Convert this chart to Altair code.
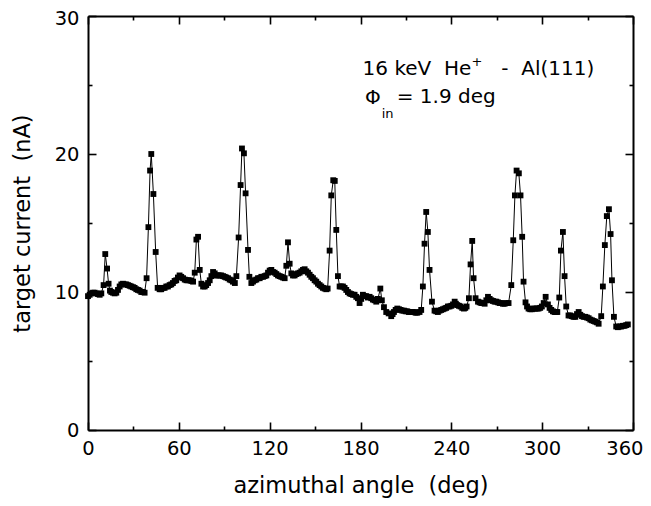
import altair as alt
import pandas as pd

# ---- data ----
angle = [
    0.0, 1.1, 2.2, 3.3, 4.4, 5.5, 6.6, 7.7, 8.8, 10.3,
    11.4, 12.6, 13.6, 14.5, 15.4, 16.5, 17.6, 18.7, 19.8, 20.9,
    22.0, 23.1, 24.2, 25.3, 26.4, 27.5, 28.6, 29.7, 30.8, 31.9,
    33.0, 34.1, 35.2, 36.3, 37.4, 38.7, 39.9, 41.0, 41.8, 43.2,
    44.7, 46.0, 47.3, 48.4, 49.5, 50.6, 51.7, 52.8, 53.9, 55.0,
    56.1, 57.2, 58.3, 59.4, 60.5, 61.6, 62.8, 63.9, 65.0, 66.1,
    67.2, 68.3, 69.4, 70.5, 71.6, 72.7, 73.8, 74.9, 76.0, 77.1,
    78.1, 79.3, 80.4, 81.5, 82.6, 83.7, 84.8, 85.9, 86.9, 88.0,
    89.2, 90.3, 91.3, 92.5, 93.6, 94.7, 95.7, 97.0, 98.0, 99.5,
    100.8, 101.7, 103.0, 104.1, 105.7, 106.6, 107.9, 109.0, 110.1, 111.2,
    112.3, 113.4, 114.5, 115.6, 116.7, 117.8, 118.9, 120.0, 121.1, 122.2,
    123.3, 124.4, 125.5, 126.6, 127.7, 128.8, 129.9, 131.0, 132.1, 133.2,
    134.3, 135.4, 136.5, 137.6, 138.7, 139.8, 140.9, 142.0, 143.1, 144.2,
    145.3, 146.4, 147.5, 148.6, 149.7, 150.8, 151.9, 153.0, 154.1, 155.2,
    156.3, 157.4, 158.3, 159.6, 160.7, 162.0, 163.0, 164.0, 165.1, 166.2,
    167.3, 168.4, 169.5, 170.6, 171.7, 172.8, 173.9, 175.0, 176.1, 177.2,
    178.3, 179.4, 180.5, 181.6, 182.7, 183.8, 184.9, 186.0, 187.1, 188.2,
    189.3, 190.4, 191.5, 193.1, 194.1, 195.5, 197.0, 198.6, 200.3, 201.2,
    202.1, 203.2, 204.3, 205.4, 206.5, 207.6, 208.7, 209.8, 210.9, 212.0,
    213.1, 214.2, 215.3, 216.4, 217.5, 219.0, 220.1, 221.2, 222.3, 223.4,
    224.5, 225.6, 227.2, 228.9, 230.0, 231.1, 232.2, 233.3, 234.4, 235.5,
    236.6, 237.7, 238.8, 240.0, 241.1, 242.2, 243.0, 243.9, 245.0, 246.1,
    247.2, 248.3, 249.2, 250.1, 251.6, 252.7, 253.8, 254.7, 256.0, 257.6,
    258.7, 259.8, 260.9, 262.0, 263.1, 264.2, 265.3, 266.4, 267.5, 268.6,
    269.7, 270.8, 271.9, 273.0, 274.1, 275.2, 276.5, 277.8, 279.6, 280.9,
    282.0, 283.1, 284.6, 285.7, 286.8, 287.7, 289.0, 290.0, 291.0, 292.1,
    293.2, 294.3, 295.4, 296.5, 297.6, 298.7, 299.8, 301.0, 302.3, 303.8,
    304.9, 306.0, 307.1, 308.2, 309.1, 310.0, 311.3, 312.4, 313.7, 314.8,
    315.9, 317.4, 318.5, 319.6, 320.7, 321.9, 323.0, 324.1, 325.2, 326.3,
    327.4, 328.5, 329.6, 330.7, 331.8, 332.9, 334.0, 335.1, 336.2, 337.3,
    339.0, 340.1, 341.4, 342.7, 344.1, 345.2, 346.1, 347.4, 348.9, 350.0,
    351.1, 352.2, 353.3, 354.4, 355.5, 356.6,
]
current = [
    9.7, 9.8, 9.9, 9.95, 9.95, 9.9, 9.85, 9.8, 9.9, 10.5,
    12.75, 11.7, 10.6, 10.1, 10.0, 9.95, 9.9, 9.95, 10.15, 10.4,
    10.55, 10.6, 10.55, 10.55, 10.5, 10.45, 10.4, 10.35, 10.3, 10.2,
    10.15, 10.1, 10.0, 10.0, 9.95, 11.0, 14.7, 18.8, 20.0, 17.1,
    12.9, 10.3, 10.2, 10.2, 10.3, 10.3, 10.4, 10.4, 10.5, 10.55,
    10.65, 10.8, 10.85, 11.05, 11.2, 11.1, 11.0, 10.9, 10.85, 10.85,
    10.85, 10.8, 10.75, 11.4, 13.8, 14.0, 11.6, 10.6, 10.4, 10.4,
    10.5, 10.65, 10.85, 11.15, 11.45, 11.35, 11.2, 11.2, 11.2, 11.2,
    11.15, 11.1, 11.05, 11.0, 10.9, 10.85, 10.75, 10.65, 11.15, 13.95,
    17.75, 20.4, 20.05, 17.15, 13.05, 11.1, 10.65, 10.75, 10.85, 10.9,
    11.0, 11.0, 11.1, 11.1, 11.15, 11.2, 11.4, 11.55, 11.6, 11.45,
    11.4, 11.3, 11.2, 11.15, 11.1, 11.05, 11.0, 11.9, 13.6, 12.05,
    11.35, 11.2, 11.2, 11.3, 11.35, 11.4, 11.5, 11.6, 11.65, 11.5,
    11.4, 11.25, 11.1, 11.0, 10.85, 10.75, 10.6, 10.5, 10.4, 10.3,
    10.25, 10.2, 10.25, 13.0, 17.0, 18.1, 18.05, 14.5, 11.15, 10.4,
    10.4, 10.4, 10.3, 10.15, 10.0, 9.9, 9.85, 9.8, 9.8, 9.65,
    9.55, 9.2, 9.5, 9.8, 9.7, 9.7, 9.6, 9.65, 9.55, 9.45,
    9.4, 9.3, 9.5, 10.25, 9.4, 8.9, 8.55, 8.45, 8.25, 8.4,
    8.55, 8.7, 8.8, 8.75, 8.7, 8.65, 8.65, 8.6, 8.6, 8.55,
    8.55, 8.55, 8.55, 8.5, 8.5, 8.55, 8.7, 10.4, 13.5, 15.8,
    14.35, 11.6, 9.3, 8.65, 8.6, 8.55, 8.65, 8.7, 8.75, 8.8,
    8.85, 8.95, 8.95, 9.0, 9.1, 9.3, 9.15, 9.05, 9.0, 8.95,
    8.85, 8.8, 8.85, 8.95, 9.55, 12.0, 13.7, 11.0, 9.55, 9.3,
    9.25, 9.2, 9.2, 9.15, 9.4, 9.65, 9.5, 9.4, 9.35, 9.3,
    9.3, 9.25, 9.2, 9.2, 9.15, 9.15, 9.2, 9.2, 10.5, 13.75,
    17.0, 18.8, 18.6, 17.0, 14.0, 10.75, 9.25, 8.95, 8.8, 8.75,
    8.75, 8.8, 8.8, 8.8, 8.8, 8.85, 8.95, 9.2, 9.65, 9.1,
    8.85, 8.7, 8.6, 8.55, 8.55, 8.55, 9.6, 13.0, 14.35, 11.15,
    8.95, 8.3, 8.3, 8.25, 8.2, 8.2, 8.4, 8.55, 8.35, 8.25,
    8.2, 8.2, 8.15, 8.1, 8.0, 7.95, 7.9, 7.85, 7.8, 7.7,
    8.25, 10.4, 13.4, 15.5, 16.0, 14.2, 10.85, 8.2, 7.5, 7.45,
    7.5, 7.5, 7.55, 7.55, 7.6, 7.65,
]
assert len(angle) == len(current)

x_major = [0, 60, 120, 180, 240, 300, 360]
x_labels_mid = [0, 60, 120, 180, 240, 300]
x_label_last = [360]
x_minor = [30, 90, 150, 210, 270, 330]
y_major = [0, 10, 20, 30]
y_labels_low = [0, 10, 20]
y_label_top = [30]
y_minor = [5, 15, 25]

NB = "\u00a0"
x_title = "azimuthal angle" + NB + " (deg)"
y_title = "target current" + NB + " (nA)"

# annotation pieces (text, angle, current, kind)
ann_text = ["16 keV" + NB + " He", "+", "-" + NB + " Al(111)", "\u03a6", "in", "= 1.9 deg"]
ann_x = [181.4, 253.3, 273.0, 183.0, 194.0, 203.9]
ann_y = [25.72, 26.4, 25.72, 23.62, 22.6, 23.67]
ann_kind = ["big", "small", "big", "big", "small", "big"]

df = pd.DataFrame({"angle": angle, "current": current})
ann = pd.DataFrame({"t": ann_text, "ax": ann_x, "ay": ann_y, "kind": ann_kind})

W, H = 545, 414
FONT = "DejaVu Sans"
LABEL_SIZE = 19.5
xs = alt.Scale(domain=[0, 360], nice=False, zero=False)
ys = alt.Scale(domain=[0, 30], nice=False, zero=False)


def tick_axis(orient, offset, values, size, domain):
    return alt.Axis(orient=orient, offset=offset, values=values, tickSize=size,
                    tickWidth=1.6, tickColor="black", labels=False, title=None,
                    grid=False, domain=domain, domainColor="black", domainWidth=2)


def label_axis(orient, values, **kw):
    return alt.Axis(orient=orient, values=values, ticks=False, tickSize=0,
                    labelPadding=9, labelFont=FONT, labelFontSize=LABEL_SIZE,
                    labelColor="black", labelFlush=False, labelOverlap=False,
                    grid=False, **kw)


main_x = label_axis("bottom", x_labels_mid,
                    title=x_title, titleFont=FONT, titleFontSize=22.5,
                    titleFontWeight="normal", titleColor="black", titlePadding=17,
                    domain=True, domainColor="black", domainWidth=2)
last_x = label_axis("bottom", x_label_last, labelAlign="right", labelOffset=10,
                    title=None, domain=False)
main_y = label_axis("left", y_labels_low,
                    title=y_title, titleFont=FONT, titleFontSize=22.5,
                    titleFontWeight="normal", titleColor="black", titlePadding=20,
                    domain=True, domainColor="black", domainWidth=2)
top_y = label_axis("left", y_label_top, labelOffset=2, title=None, domain=False)

line = alt.Chart(df).mark_line(color="black", strokeWidth=1).encode(
    x=alt.X("angle:Q", scale=xs, axis=main_x),
    y=alt.Y("current:Q", scale=ys, axis=main_y),
)
points = alt.Chart(df).mark_square(color="black", size=34, opacity=1).encode(
    x=alt.X("angle:Q", scale=xs, axis=tick_axis("bottom", -H, x_major, 8, True)),
    y=alt.Y("current:Q", scale=ys, axis=tick_axis("left", -W, y_major, 8, True)),
)


def dummy(xax, yax):
    return alt.Chart(df).mark_point(opacity=0).encode(
        x=alt.X("angle:Q", scale=xs, axis=xax),
        y=alt.Y("current:Q", scale=ys, axis=yax),
    )


d1 = dummy(tick_axis("bottom", -H, x_minor, 4, False), tick_axis("left", -W, y_minor, 4, False))
d2 = dummy(tick_axis("top", -H, x_major, 8, False), tick_axis("right", -W, y_major, 8, False))
d3 = dummy(tick_axis("top", -H, x_minor, 4, False), tick_axis("right", -W, y_minor, 4, False))
d4 = dummy(last_x, top_y)

big = alt.Chart(ann).transform_filter("datum.kind == 'big'").mark_text(
    align="left", baseline="alphabetic", font=FONT, fontSize=20, color="black"
).encode(
    x=alt.X("ax:Q", scale=xs, axis=None),
    y=alt.Y("ay:Q", scale=ys, axis=None),
    text="t:N",
)
small = alt.Chart(ann).transform_filter("datum.kind == 'small'").mark_text(
    align="left", baseline="alphabetic", font=FONT, fontSize=13, color="black"
).encode(
    x=alt.X("ax:Q", scale=xs, axis=None),
    y=alt.Y("ay:Q", scale=ys, axis=None),
    text="t:N",
)

chart = alt.layer(line, points, d1, d2, d3, d4, big, small).resolve_axis(
    x="independent", y="independent"
).properties(
    width=W, height=H,
    autosize=alt.AutoSizeParams(type="none"),
    padding={"left": 80, "top": 8, "right": 10, "bottom": 76},
).configure_view(stroke=None).configure(background="white")

chart.save("out.html", embed_options={"renderer": "svg", "actions": False})
